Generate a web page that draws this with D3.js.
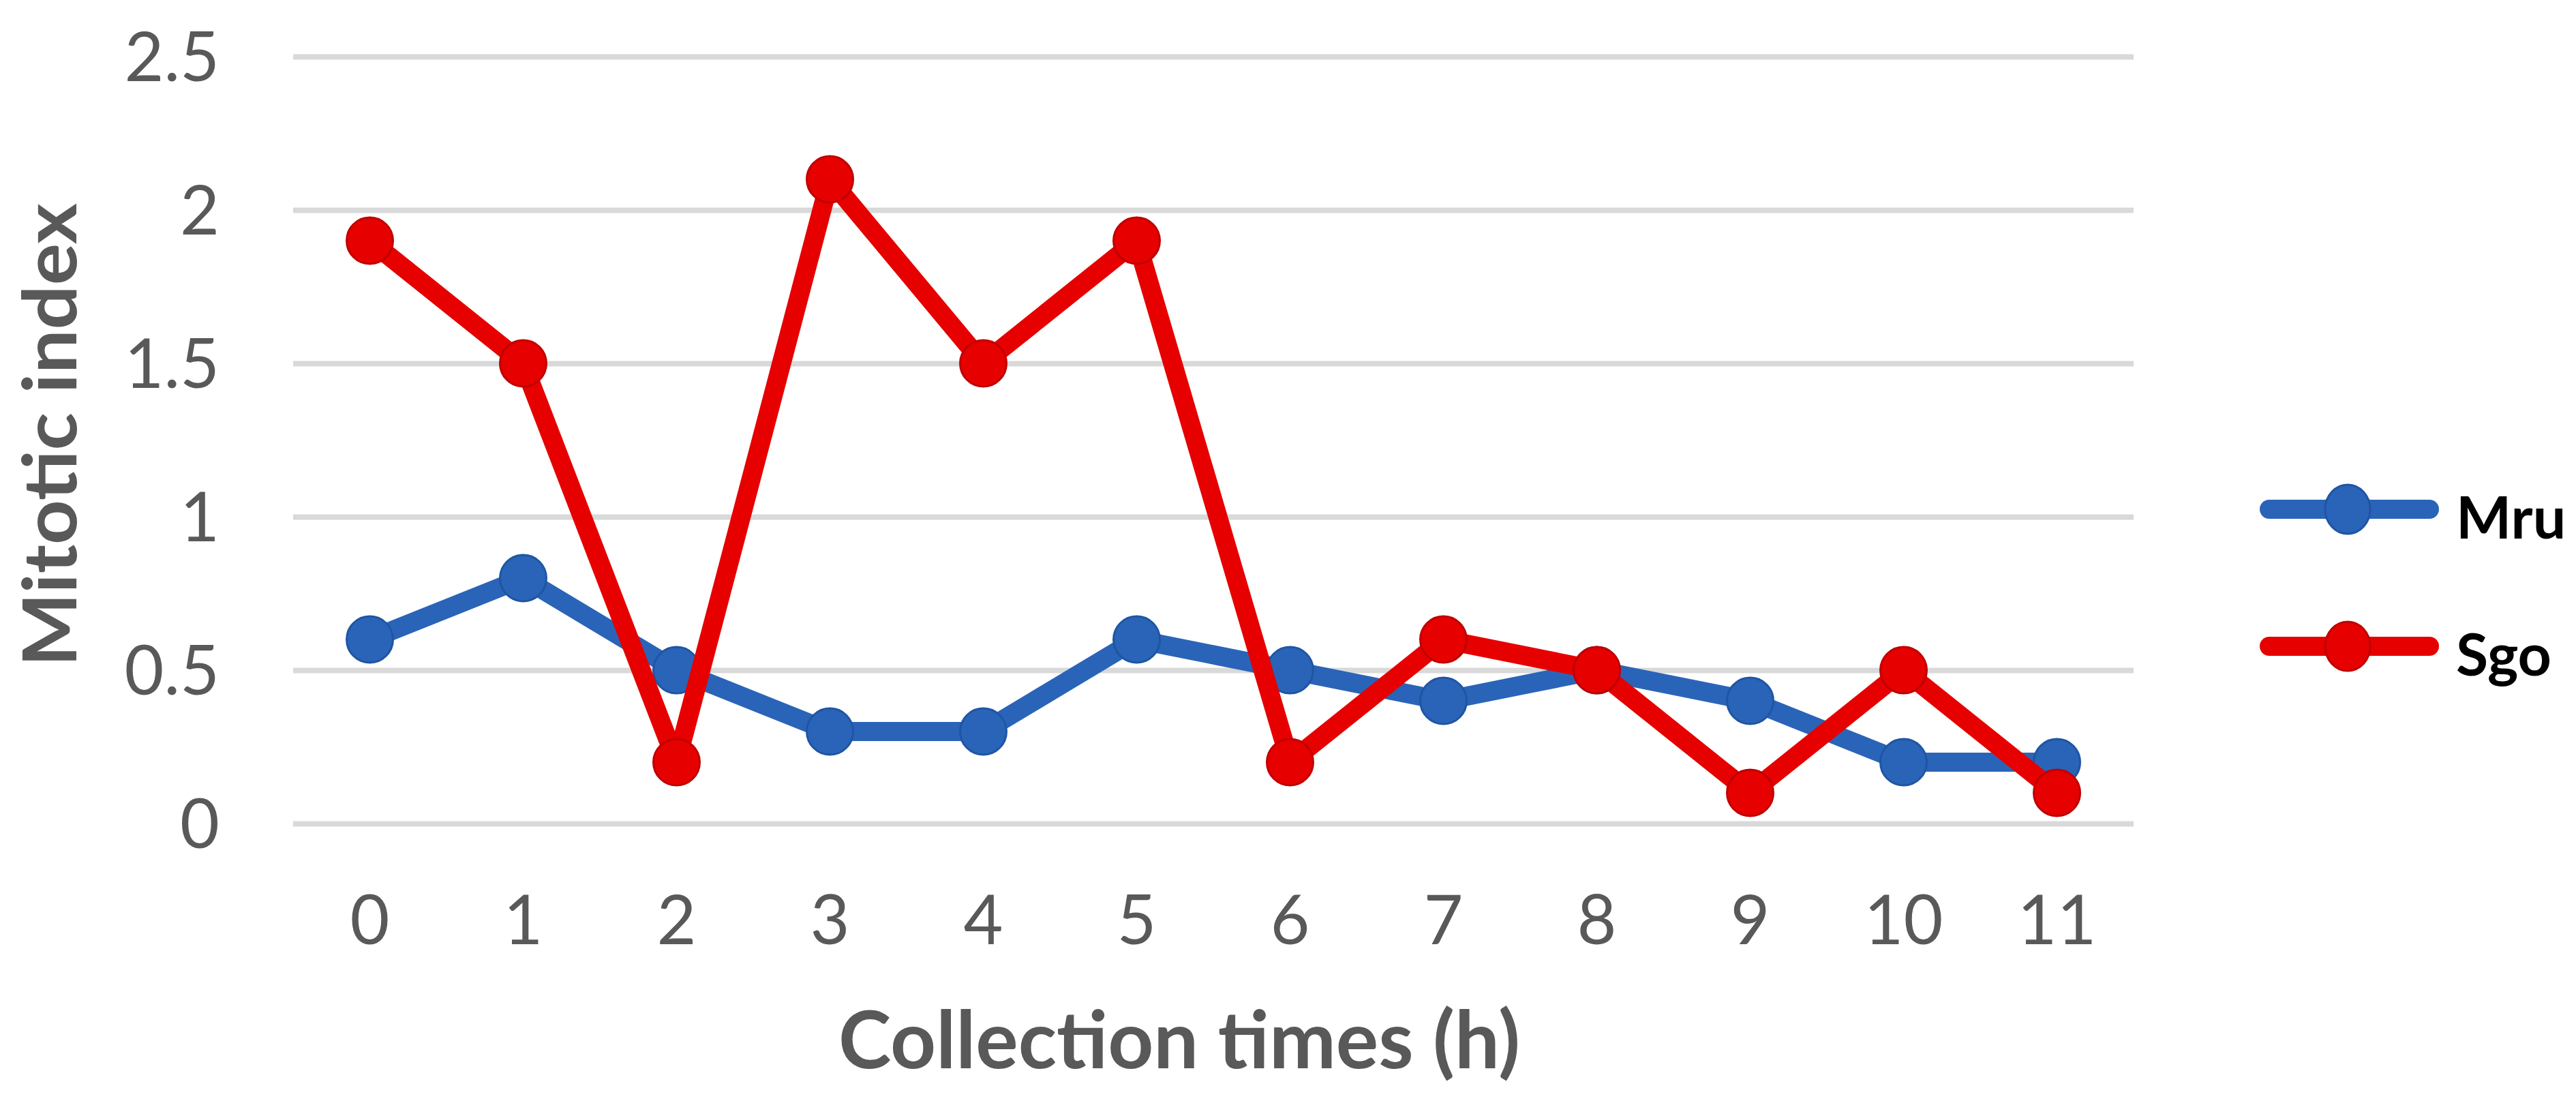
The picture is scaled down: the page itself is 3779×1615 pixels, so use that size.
<!DOCTYPE html>
<html>
<head>
<meta charset="utf-8">
<script src="https://cdn.jsdelivr.net/npm/d3@7"></script>
<style>
  html, body { margin: 0; padding: 0; background: #ffffff; }
  svg { display: block; }
</style>
</head>
<body>
<script>
const categories = ["0","1","2","3","4","5","6","7","8","9","10","11"];
const mruValues = [0.6, 0.8, 0.5, 0.3, 0.3, 0.6, 0.5, 0.4, 0.5, 0.4, 0.2, 0.2];
const sgoValues = [1.9, 1.5, 0.2, 2.1, 1.5, 1.9, 0.2, 0.6, 0.5, 0.1, 0.5, 0.1];
const yTicks = [0, 0.5, 1, 1.5, 2, 2.5];
const seriesNames = ["Mru", "Sgo"];
const seriesColors = ["#2A64B8", "#E60000"];
const seriesStrokes = ["#1F55A3", "#C00000"];
const xTitle = "Collection times (h)";
const yTitle = "Mitotic index";

const W = 3779, H = 1615;
const plotLeft = 430, plotRight = 3130, plotTop = 83, plotBottom = 1208;

const svg = d3.select("body").append("svg")
  .attr("width", W).attr("height", H)
  .style("font-family", "Lato, 'Open Sans', sans-serif");

const x = d3.scaleBand().domain(categories).range([plotLeft, plotRight]).padding(0);
const y = d3.scaleLinear().domain([0, 2.5]).range([plotBottom, plotTop]);

// gridlines
svg.append("g")
  .attr("transform", `translate(${plotLeft},0)`)
  .call(d3.axisLeft(y).tickValues(yTicks).tickSize(-(plotRight - plotLeft)).tickFormat(""))
  .call(g => g.select(".domain").remove())
  .call(g => g.selectAll(".tick line").attr("stroke", "#D9D9D9").attr("stroke-width", 8));

// y tick labels
svg.append("g")
  .attr("transform", `translate(322,0)`)
  .call(d3.axisLeft(y).tickValues(yTicks).tickSize(0).tickPadding(0).tickFormat(d => String(d)))
  .call(g => g.select(".domain").remove())
  .call(g => g.selectAll("text").attr("fill", "#595959").attr("font-size", 100)
    .attr("font-family", "Lato, 'Open Sans', sans-serif").attr("dy", "0.35em"));

// x tick labels
svg.append("g")
  .attr("transform", `translate(0,1313)`)
  .call(d3.axisBottom(x).tickSize(0).tickPadding(0))
  .call(g => g.select(".domain").remove())
  .call(g => g.selectAll("text").attr("fill", "#595959").attr("font-size", 100)
    .attr("font-family", "Lato, 'Open Sans', sans-serif").attr("dy", "0.72em"));

// titles
svg.append("text")
  .attr("x", (plotLeft + plotRight) / 2 - 50).attr("y", 1567)
  .attr("text-anchor", "middle")
  .attr("font-size", 117).attr("font-weight", "bold").attr("fill", "#595959")
  .attr("textLength", 1000).attr("lengthAdjust", "spacingAndGlyphs")
  .text(xTitle);

svg.append("text")
  .attr("transform", `translate(112,638) rotate(-90)`)
  .attr("text-anchor", "middle")
  .attr("font-size", 110).attr("font-weight", "bold").attr("fill", "#595959")
  .attr("textLength", 680).attr("lengthAdjust", "spacingAndGlyphs")
  .text(yTitle);

// series
const allSeries = [mruValues, sgoValues];
const line = d3.line()
  .x((d, i) => x(categories[i]) + x.bandwidth() / 2)
  .y(d => y(d));

allSeries.forEach((vals, si) => {
  const g = svg.append("g");
  g.append("path")
    .datum(vals)
    .attr("d", line)
    .attr("fill", "none")
    .attr("stroke", seriesColors[si])
    .attr("stroke-width", 28)
    .attr("stroke-linejoin", "round");
  g.selectAll("circle").data(vals).join("circle")
    .attr("cx", (d, i) => x(categories[i]) + x.bandwidth() / 2)
    .attr("cy", d => y(d))
    .attr("r", 34)
    .attr("fill", seriesColors[si])
    .attr("stroke", seriesStrokes[si])
    .attr("stroke-width", 3);
});

// legend
const legendY = [747, 948];
seriesNames.forEach((name, si) => {
  const g = svg.append("g");
  g.append("line")
    .attr("x1", 3315 + 14).attr("x2", 3578 - 14)
    .attr("y1", legendY[si]).attr("y2", legendY[si])
    .attr("stroke", seriesColors[si]).attr("stroke-width", 28)
    .attr("stroke-linecap", "round");
  g.append("ellipse")
    .attr("cx", 3444).attr("cy", legendY[si])
    .attr("rx", 33).attr("ry", 36)
    .attr("fill", seriesColors[si])
    .attr("stroke", seriesStrokes[si]).attr("stroke-width", 3);
  g.append("text")
    .attr("x", 3603).attr("y", legendY[si] + 43)
    .attr("font-size", 86).attr("font-weight", "bold").attr("fill", "#000000")
    .text(name);
});
</script>
</body>
</html>
